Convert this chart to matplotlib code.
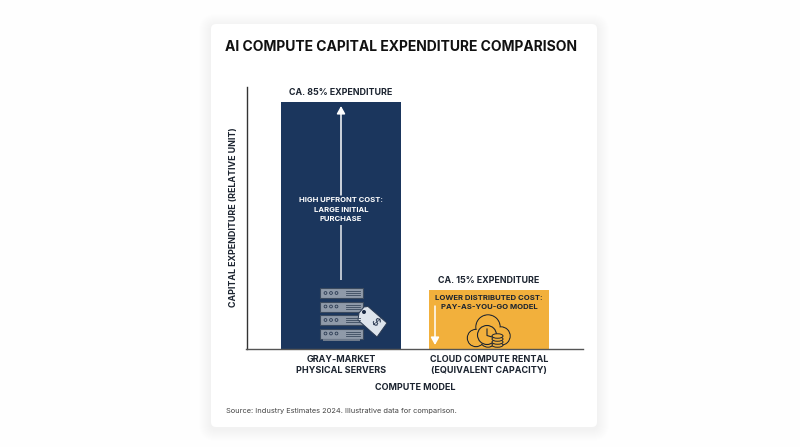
import matplotlib
matplotlib.use("Agg")
import matplotlib.pyplot as plt
from matplotlib.patches import Circle, Ellipse, FancyBboxPatch, Polygon, Rectangle

plt.rcParams["font.family"] = ["Inter", "DejaVu Sans"]

# ------------------------------------------------------------------------------
categories = ["GRAY-MARKET\nPHYSICAL SERVERS", "CLOUD COMPUTE RENTAL\n(EQUIVALENT CAPACITY)"]
bar_heights = [85, 20.3]  # Drawn heights, relative unit (not to the 85/15 labels)
bar_labels = ["CA. 85% EXPENDITURE", "CA. 15% EXPENDITURE"]
bar_colors = ["#1b365d", "#f2b03c"]
title = "AI COMPUTE CAPITAL EXPENDITURE COMPARISON"
y_label = "CAPITAL EXPENDITURE (RELATIVE UNIT)"
x_label = "COMPUTE MODEL"
source = "Source: Industry Estimates 2024. Illustrative data for comparison."
note_high = "HIGH UPFRONT COST:\nLARGE INITIAL\nPURCHASE"
note_low = "LOWER DISTRIBUTED COST:\nPAY-AS-YOU-GO MODEL"
dark = "#1c2430"
# ------------------------------------------------------------------------------

fig = plt.figure(figsize=(8, 4.47), dpi=100, facecolor="#fefefe")

# overlay in pixel coordinates for the card and the icons
bg = fig.add_axes([0, 0, 1, 1], zorder=0)
bg.set_xlim(0, 800)
bg.set_ylim(447, 0)
bg.axis("off")
for i in range(12, 0, -1):
    bg.add_patch(FancyBboxPatch((211 - i, 24 - i + 2), 386 + 2 * i, 403 + 2 * i,
                                boxstyle="round,pad=0,rounding_size=%d" % (5 + i),
                                fc="black", ec="none", alpha=0.0035))
bg.add_patch(FancyBboxPatch((211, 24), 386, 403, boxstyle="round,pad=0,rounding_size=5",
                            fc="white", ec="none"))

ax = fig.add_axes([246.5 / 800, (447 - 349) / 447, 336.5 / 800, 262 / 447], zorder=1)
ax.patch.set_alpha(0)
x = [0, 1]
ax.bar(x, bar_heights, width=0.811, color=bar_colors)
ax.set_xlim(-0.6385, 1.635)
ax.set_ylim(0, 90.16)
ax.spines["top"].set_visible(False)
ax.spines["right"].set_visible(False)
ax.spines["left"].set_color("#333333")
ax.spines["bottom"].set_color("#555555")
ax.spines["left"].set_linewidth(1.0)
ax.spines["bottom"].set_linewidth(1.0)
ax.set_yticks([])
ax.set_xticks(x)
ax.set_xticklabels(categories, fontsize=6.5, fontweight="bold", color=dark, linespacing=1.3)
ax.tick_params(axis="x", length=0, pad=4.2)
ax.set_ylabel(y_label, fontsize=6.4, fontweight="bold", color=dark)
ax.yaxis.set_label_coords(-0.0247, 1 - (217.5 - 87) / 262)

for xi, h, lab in zip(x, bar_heights, bar_labels):
    ax.annotate(lab, (xi, h), xytext=(0, 3.6), textcoords="offset points", ha="center",
                va="bottom", fontsize=6.4, fontweight="bold", color=dark)

# foreground overlay for notes, arrows and icons
fg = fig.add_axes([0, 0, 1, 1], zorder=2)
fg.set_xlim(0, 800)
fg.set_ylim(447, 0)
fg.axis("off")

fg.text(225, 47, title, fontsize=10.02, fontweight="bold", color="#111111", ha="left", va="center")
fg.text(415, 388, x_label, fontsize=6.5, fontweight="bold", color=dark, ha="center", va="center")
fg.text(226, 411, source, fontsize=5.35, color="#444444", ha="left", va="center")

fg.text(341, 209.5, note_high, fontsize=5.5, fontweight="bold", color="white", ha="center",
        va="center", linespacing=1.65)
fg.text(489, 302.5, note_low, fontsize=5.55, fontweight="bold", color=dark, ha="center",
        va="center", linespacing=1.55)

# white arrows
fg.plot([341, 341], [280, 225], color="#e8ecf0", lw=1.1, solid_capstyle="butt")
fg.annotate("", (341, 106), (341, 195), arrowprops=dict(arrowstyle="-|>,head_width=0.25,head_length=0.45",
                                                        color="white", lw=1.1, shrinkA=0, shrinkB=0))
fg.annotate("", (435, 345), (435, 306), arrowprops=dict(arrowstyle="-|>,head_width=0.25,head_length=0.45",
                                                        color="white", lw=1.1, shrinkA=0, shrinkB=0))

# server rack icon
for top in [288, 301.5, 315, 328.5]:
    fg.add_patch(Rectangle((320, top), 43, 10, fc="#8f9aa9", ec="#3b4a5e", lw=0.8))
    for cx in [325.5, 331, 336.5]:
        fg.add_patch(Circle((cx, top + 5), 1.4, fc="none", ec="#2a3a52", lw=0.6))
    for dy in [3, 5, 7]:
        fg.plot([346, 360], [top + dy, top + dy], color="#3b4a5e", lw=0.6)
fg.add_patch(Rectangle((323, 338.5), 37, 2.5, fc="#6f7b8c", ec="none"))

# price tag
fg.add_patch(Polygon([(359, 313), (364, 307), (368, 306.5), (387, 323), (377, 337), (358, 320)],
                     fc="#dde4ec", ec="#2a3a52", lw=0.7))
fg.add_patch(Circle((364, 312), 2.0, fc="#1b2a44", ec="none"))
fg.text(374.5, 322.5, "$", fontsize=8, color="#1b2a44", rotation=-50, ha="center", va="center")

# cloud icon, outlined circles then filled on top to leave only the outer edge
amber = bar_colors[1]
lobes = [(476, 338, 8.5), (488, 327, 12), (501, 336, 9), (488, 339, 8)]
for cx, cy, r in lobes:
    fg.add_patch(Circle((cx, cy), r, fc=amber, ec=dark, lw=1.0))
for cx, cy, r in lobes:
    fg.add_patch(Circle((cx, cy), r - 0.4, fc=amber, ec="none"))
fg.add_patch(Circle((487, 335), 9.5, fc=amber, ec=dark, lw=0.8))
fg.plot([487, 487, 492], [329, 335.5, 337], color=dark, lw=0.8)
for cy in [345, 342, 339, 336]:
    fg.add_patch(Ellipse((497.5, cy), 11, 4.5, fc=amber, ec=dark, lw=0.7))

fig.savefig("out.png", dpi=100, facecolor=fig.get_facecolor())
